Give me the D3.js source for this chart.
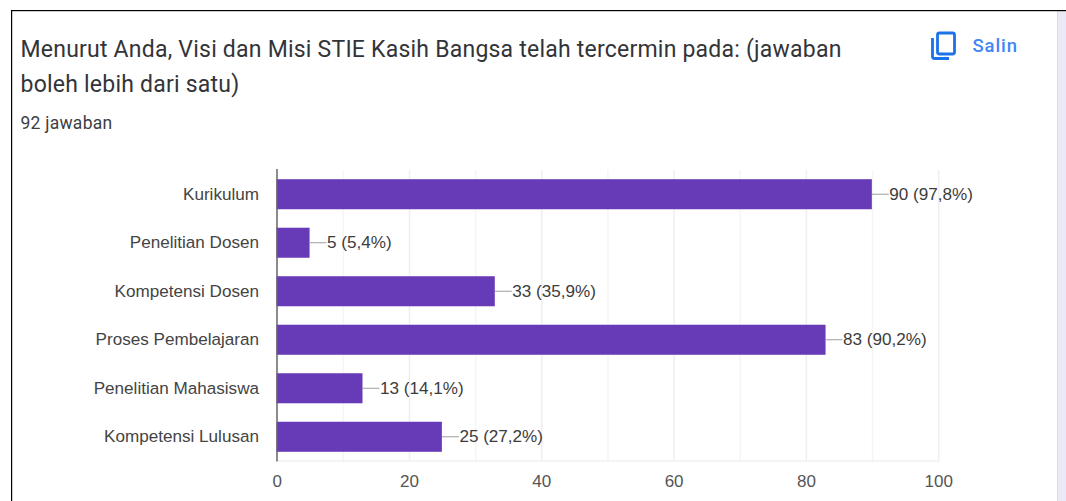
<!DOCTYPE html>
<html><head><meta charset="utf-8">
<script src="https://cdn.jsdelivr.net/npm/d3@7"></script>
<style>html,body{margin:0;padding:0;background:#fff;overflow:hidden}svg{display:block}</style>
</head><body><svg id="c" width="1066" height="501"></svg>
<script>
const categories=["Kurikulum","Penelitian Dosen","Kompetensi Dosen","Proses Pembelajaran","Penelitian Mahasiswa","Kompetensi Lulusan"];
const counts=[90,5,33,83,13,25];
const percents=["97,8%","5,4%","35,9%","90,2%","14,1%","27,2%"];
const ticks=[0,20,40,60,80,100];
const minorTicks=[10,20,30,40,50,60,70,80,90,100];
const titleLines=["Menurut Anda, Visi dan Misi STIE Kasih Bangsa telah tercermin pada: (jawaban","boleh lebih dari satu)"];
const subtitle="92 jawaban";
const copyLabel="Salin";

const svg=d3.select("#c");
const x=d3.scaleLinear().domain([0,100]).range([276.5,938]);
const gridOffset=0.7;
const y=d3.scaleBand().domain(categories).range([170,461]).paddingInner(0.381).paddingOuter(0.19);
const arial="Arial, 'Liberation Sans', sans-serif";

// page frame
svg.append("rect").attr("x",1058).attr("y",11).attr("width",8).attr("height",490).attr("fill","#ece9f7");
svg.append("rect").attr("x",1057).attr("y",11).attr("width",1).attr("height",490).attr("fill","#dcdae6");
svg.append("rect").attr("x",11).attr("y",10).attr("width",1055).attr("height",1.2).attr("fill","#000");
svg.append("rect").attr("x",11).attr("y",10).attr("width",1.2).attr("height",491).attr("fill","#000");

// header
svg.selectAll("text.t").data(titleLines).join("text").attr("class","t")
  .attr("x",20.5).attr("y",(d,i)=>57+i*35).text(d=>d)
  .attr("font-family","Roboto").attr("font-size",23).attr("letter-spacing",0.22).attr("fill","#333438");
svg.append("text").attr("x",20.5).attr("y",129).text(subtitle)
  .attr("font-family","Roboto").attr("font-size",17.5).attr("letter-spacing",0.25).attr("fill","#3c4043");

// copy icon
const icon=svg.append("g").attr("fill","none").attr("stroke","#1a73e8").attr("stroke-width",2.8);
icon.append("rect").attr("x",937.5).attr("y",33).attr("width",17).attr("height",21).attr("rx",2);
icon.append("path").attr("d","M932.5 38V56.5a2 2 0 0 0 2 2H949");
svg.append("text").attr("x",972.5).attr("y",52).text(copyLabel)
  .attr("font-family","Roboto").attr("font-weight",500).attr("font-size",18.5).attr("letter-spacing",0.9).attr("fill","#4285f4");

// grid
svg.append("g").selectAll("line").data(minorTicks).join("line")
  .attr("x1",d=>x(d)+gridOffset).attr("x2",d=>x(d)+gridOffset).attr("y1",170).attr("y2",461)
  .attr("stroke",d=>d%20===0?"#efefef":"#f5f5f5").attr("stroke-width",1.5);
svg.append("line").attr("x1",277).attr("x2",x(100)+1.4).attr("y1",461).attr("y2",461).attr("stroke","#f1f1f1").attr("stroke-width",1.5);

// bars
svg.append("g").selectAll("rect").data(categories).join("rect")
  .attr("x",x(0)).attr("y",d=>y(d)).attr("height",y.bandwidth())
  .attr("width",(d,i)=>x(counts[i])-x(0)).attr("fill","#673ab7");

// leader lines and value labels
svg.append("g").selectAll("line").data(categories).join("line")
  .attr("x1",(d,i)=>x(counts[i])).attr("x2",(d,i)=>x(counts[i])+17)
  .attr("y1",d=>y(d)+y.bandwidth()/2).attr("y2",d=>y(d)+y.bandwidth()/2)
  .attr("stroke","#9e9e9e").attr("stroke-width",1);
svg.append("g").selectAll("text").data(categories).join("text")
  .attr("x",(d,i)=>x(counts[i])+17.5).attr("y",d=>y(d)+y.bandwidth()/2+5.6)
  .text((d,i)=>`${counts[i]} (${percents[i]})`)
  .attr("font-family",arial).attr("font-size",17.1).attr("fill","#3c3c3c");

// category labels
svg.append("g").selectAll("text").data(categories).join("text")
  .attr("x",259).attr("y",d=>y(d)+y.bandwidth()/2+5.6).attr("text-anchor","end").text(d=>d)
  .attr("font-family",arial).attr("font-size",17.1).attr("fill","#444");

// axis line and x ticks
svg.append("line").attr("x1",277).attr("x2",277).attr("y1",169).attr("y2",461.5).attr("stroke","#666").attr("stroke-width",1.5);
svg.append("g").selectAll("text").data(ticks).join("text")
  .attr("x",d=>x(d)+gridOffset).attr("y",487).attr("text-anchor","middle").text(d=>d)
  .attr("font-family",arial).attr("font-size",17).attr("fill","#555");
</script></body></html>
